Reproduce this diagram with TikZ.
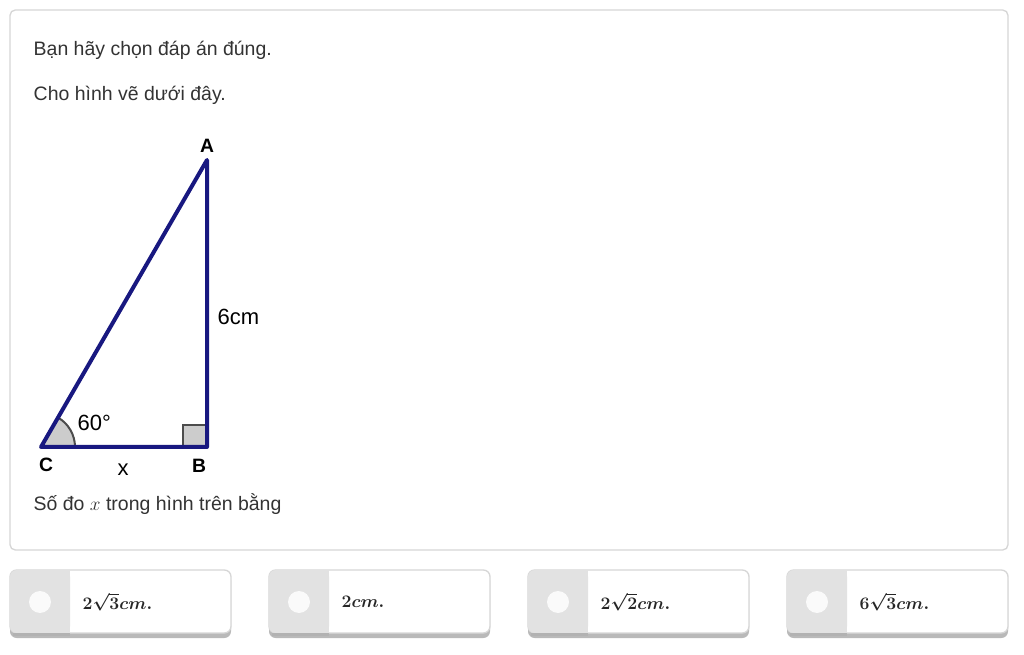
\documentclass[tikz,border=0pt]{standalone}
\usepackage{amsmath}
\usepackage{graphicx}
\usepackage{fontspec}
\setmainfont{Liberation Sans}
\usetikzlibrary{positioning,calc}
\definecolor{edgeblue}{RGB}{24,24,128}
\definecolor{panelline}{RGB}{214,214,214}
\definecolor{optgrey}{RGB}{226,226,226}
\definecolor{txt}{RGB}{51,51,51}

\begin{document}
\begin{tikzpicture}[
        x=0.75pt, y=-0.75pt,
        panel/.style={draw=panelline, line width=1pt, rounded corners=4pt, fill=white},
        side/.style={draw, line width=3pt, edgeblue, line cap=round, line join=round},
        vertex/.style={font=\bfseries\fontsize{14.5}{16}\selectfont, text=black},
        lbl/.style={font=\fontsize{16.5}{18}\selectfont, text=black},
        line/.style={anchor=west, font=\fontsize{14.6}{17}\selectfont, text=txt},
        choice/.style={font=\fontsize{12}{15}\selectfont\boldmath, text=black!85, anchor=west},
        dot/.style={circle, fill=white!96!gray, minimum size=16.5pt, inner sep=0pt}
    ]
        % page and frame
        \fill[white] (0,0) rectangle (1024,655);
        \useasboundingbox (0,0) rectangle (1024,655);
        \draw[panel] (10,10) rectangle (1008,550);

        % question text
        \node[line] (t1) at (29,50) {Bạn hãy chọn đáp án đúng.};
        \node[line] (t2) at (29,95) {Cho hình vẽ dưới đây.};

        % triangle
        \coordinate (C) at (41,447);
        \coordinate (B) at (207,447);
        \coordinate (A) at (207,160);
        \fill[gray!40, draw=black!70, line width=1.5pt] (C) -- ++(34,0) arc[start angle=0, end angle=-60, radius=34] -- cycle;
        \fill[gray!40] ($(B)+(-24,0)$) rectangle ($(B)+(0,-22)$);
        \draw[black!70, line width=1.5pt] ($(B)+(-24,0)$) -- ++(0,-22) -- ++(24,0);
        \draw[side] (C) -- (B) -- (A) -- cycle;

        \node[vertex] (lA) at (207,146) {A};
        \node[vertex] (lB) at (199,466) {B};
        \node[vertex] (lC) at (46,465) {C};
        \node[lbl] (lx) at (123,470) {x};
        \node[lbl, anchor=west] (l6) at (213,317) {6cm};
        \node[lbl, anchor=west] (l60) at (73,423) {60°};

        \node[line] (t3) at (29,504) {Số đo $x$ trong hình trên bằng};

        % answer choices
        \foreach \i/\xa/\ans in {1/10/{2\sqrt{3}cm.}, 2/269/{2cm.}, 3/528/{2\sqrt{2}cm.}, 4/787/{6\sqrt{3}cm.}}{
            \fill[gray!55, rounded corners=5pt] (\xa,574) rectangle ++(221,64);
            \filldraw[fill=white, draw=panelline, line width=1pt, rounded corners=5pt] (\xa,570) rectangle ++(221,63);
            \fill[optgrey, rounded corners=5pt] (\xa,570) rectangle ++(60,63);
            \fill[optgrey] (\xa+30,570) rectangle ++(30,63);
            \fill[gray!60] (\xa+3,633) rectangle ++(57,3);
            \node[dot] (d\i) at (\xa+30,602) {};
            \node[choice, right=20pt of d\i] (a\i) {\scalebox{1.1}{$\ans$}};
        }
    \end{tikzpicture}
\end{document}
